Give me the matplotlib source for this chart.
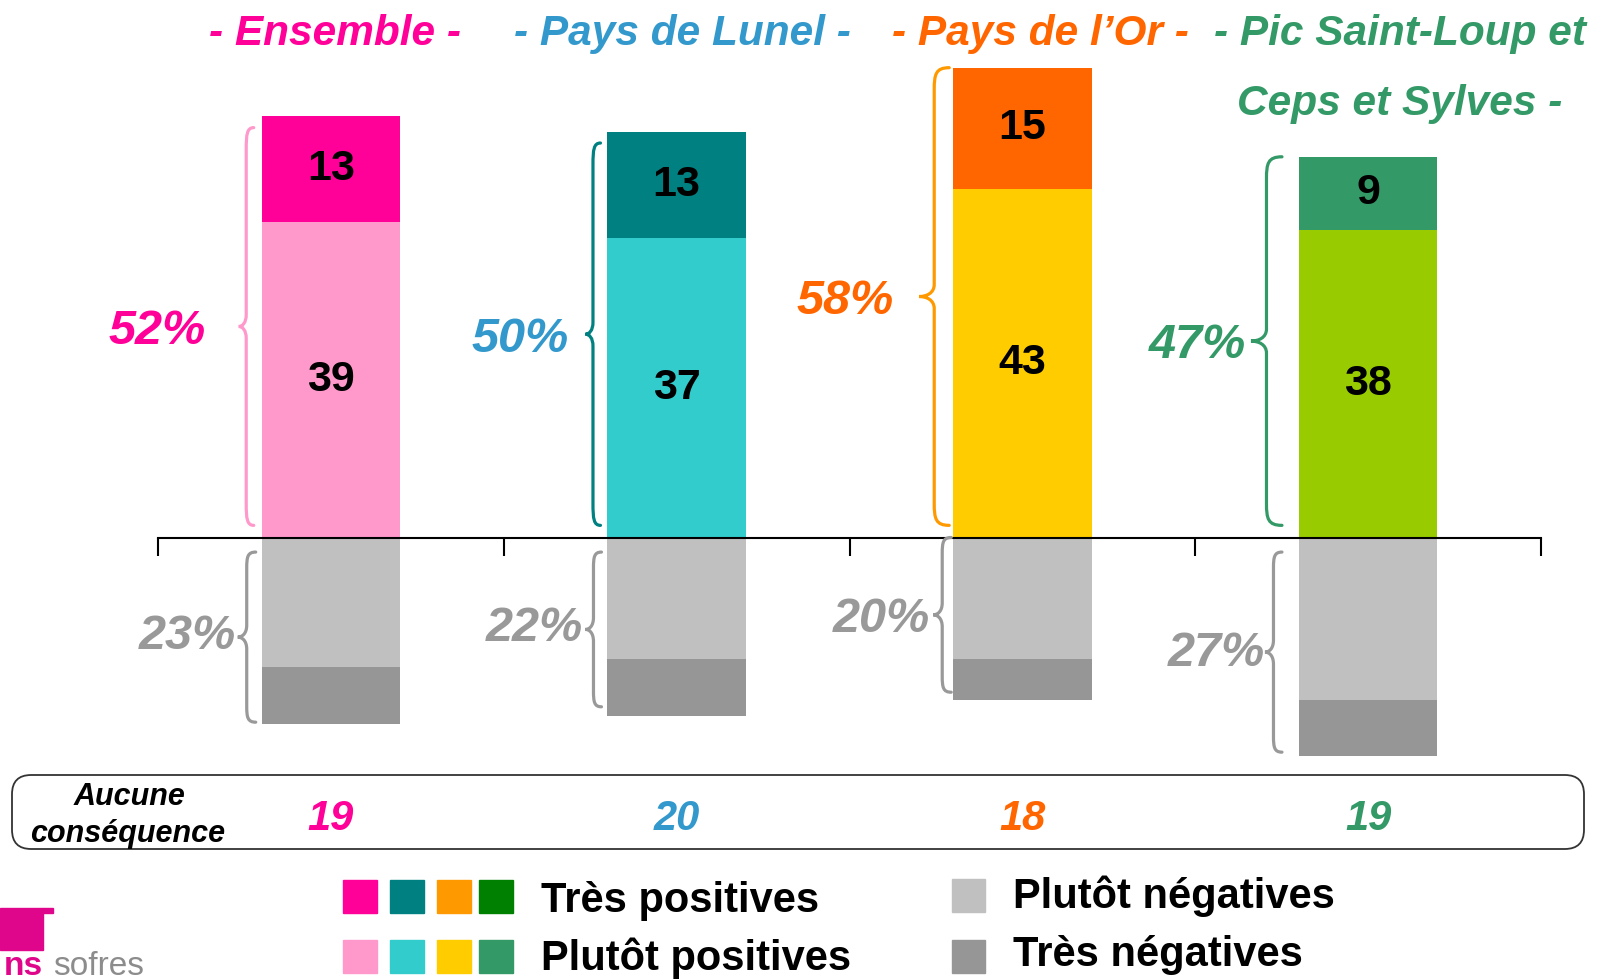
import matplotlib
matplotlib.use('Agg')
import matplotlib.pyplot as plt
import numpy as np
from matplotlib.path import Path
from matplotlib.patches import PathPatch, Rectangle, FancyBboxPatch
from matplotlib.transforms import IdentityTransform, blended_transform_factory
from matplotlib import font_manager

# données
zones = ['- Ensemble -', '- Pays de Lunel -', '- Pays de l’Or -', '- Pic Saint-Loup et\nCeps et Sylves -']
tres_pos = [13, 13, 15, 9]
plutot_pos = [39, 37, 43, 38]
plutot_neg = [16, 15, 15, 20]
tres_neg = [7, 7, 5, 7]
aucune = [19, 20, 18, 19]

# couleurs
col_tres = ['#FF0099', '#008080', '#FF6600', '#339966']
col_plutot = ['#FF99CC', '#33CCCC', '#FFCC00', '#99CC00']
col_texte = ['#FF0099', '#3399CC', '#FF6600', '#339966']
col_accolade = ['#FF99CC', '#008080', '#FF9900', '#339966']
leg_tres = ['#FF0099', '#008080', '#FF9900', '#008000']
leg_plutot = ['#FF99CC', '#33CCCC', '#FFCC00', '#339966']
GRIS_CLAIR, GRIS_FONCE, GRIS_TXT = '#C0C0C0', '#969696', '#999999'

plt.rcParams['font.family'] = ['Liberation Sans', 'DejaVu Sans']

W, H = 1598, 980
DPI = 100


def fx(px):
    return px / W


def fy(py):
    return 1 - py / H


# police étroite pour la légende si dispo
try:
    font_manager.findfont(font_manager.FontProperties(family='Liberation Sans Narrow'),
                          fallback_to_default=False)
    POLICE_LEG, TAILLE_LEG = 'Liberation Sans Narrow', 36
except ValueError:
    POLICE_LEG, TAILLE_LEG = 'Liberation Sans', 30

fig = plt.figure(figsize=(W / DPI, H / DPI), dpi=DPI)

# axe : zéro à 537 px du haut, 8.1 px par point de %
y_zero, px_pct = 537.5, 8.1
ax = fig.add_axes([fx(158), 0, fx(1541) - fx(158), 1])
ax.set_xlim(-0.5, 3.5)
ax.set_ylim(-(H - y_zero) / px_pct, y_zero / px_pct)
for s in ['left', 'right', 'top']:
    ax.spines[s].set_visible(False)
ax.spines['bottom'].set_position(('data', 0))
ax.spines['bottom'].set_linewidth(1.5)
ax.set_xticks(np.arange(-0.5, 4, 1))
ax.tick_params(axis='x', direction='out', length=13, width=1.5, labelbottom=False)
ax.set_yticks([])
ax.patch.set_alpha(0)

x = np.arange(len(zones))
larg_barre = 0.4
pos_tot = np.array(tres_pos) + np.array(plutot_pos)
neg_tot = np.array(tres_neg) + np.array(plutot_neg)

ax.bar(x, plutot_pos, larg_barre, color=col_plutot, zorder=1)
ax.bar(x, tres_pos, larg_barre, bottom=plutot_pos, color=col_tres, zorder=1)
ax.bar(x, -np.array(plutot_neg), larg_barre, color=GRIS_CLAIR, zorder=1)
ax.bar(x, -np.array(tres_neg), larg_barre, bottom=-np.array(plutot_neg), color=GRIS_FONCE, zorder=1)

for i in x:
    ax.text(i, plutot_pos[i] / 2, str(plutot_pos[i]), ha='center', va='center',
            fontsize=31, fontweight='bold')
    ax.text(i, plutot_pos[i] + tres_pos[i] / 2, str(tres_pos[i]), ha='center', va='center',
            fontsize=31, fontweight='bold')


def accolade(x_bord, y_haut, y_bas, ecart, larg, couleur, r=20, r2=12):
    """accolade tournée vers la gauche, en pixels d'affichage"""
    xb, yh = ax.transData.transform((x_bord, y_haut))
    _, yb = ax.transData.transform((x_bord, y_bas))
    xt = xb - ecart
    xs = xt - larg / 2
    xp = xt - larg
    ym = (yh + yb) / 2
    verts = [(xt, yh),
             (xs + (xt - xs) * 0.1, yh), (xs, yh - r * 0.3), (xs, yh - r),
             (xs, ym + r2),
             (xs, ym + r2 * 0.3), (xp + (xs - xp) * 0.5, ym), (xp, ym),
             (xp + (xs - xp) * 0.5, ym), (xs, ym - r2 * 0.3), (xs, ym - r2),
             (xs, yb + r),
             (xs, yb + r * 0.3), (xs + (xt - xs) * 0.1, yb), (xt, yb)]
    codes = [Path.MOVETO] + [Path.CURVE4] * 3 + [Path.LINETO] + [Path.CURVE4] * 6 + \
            [Path.LINETO] + [Path.CURVE4] * 3
    fig.add_artist(PathPatch(Path(verts, codes), fill=False, edgecolor=couleur, lw=2.3,
                             transform=IdentityTransform(), capstyle='round'))
    return xp, ym


def etiquette(xp, ym, gap, texte, couleur, taille=35):
    cap = taille / 72 * DPI * 0.716
    fig.text(xp - gap, ym - cap / 2, texte, transform=IdentityTransform(), ha='right',
             va='baseline', fontsize=taille, fontweight='bold', style='italic', color=couleur)


# réglages des accolades (positives puis négatives)
haut_pos = [1.4, 1.3, 0, 0]
ecart_pos = [8, 7, 4, 17]
larg_pos = [15, 15, 30, 31]
gap_pos = [33, 17, 25, 5]
haut_neg = [1.8, 1.8, 0, 1.8]
bas_neg = [0.2, 1.1, 0.9, 0.5]
ecart_neg = [6, 6, 2, 17]
larg_neg = [18, 16, 18, 17]
gap_neg = [2, 2, 3, 0]
decal_neg = [6, 6, 0, 4]

for i in x:
    bord = i - larg_barre / 2
    xp, ym = accolade(bord, pos_tot[i] - haut_pos[i], 1.5, ecart_pos[i], larg_pos[i],
                      col_accolade[i], r=22)
    etiquette(xp, ym, gap_pos[i], f'{pos_tot[i]}%', col_texte[i])
    xp, ym = accolade(bord, -haut_neg[i], -neg_tot[i] + bas_neg[i], ecart_neg[i], larg_neg[i],
                      GRIS_TXT, r=16)
    etiquette(xp, ym + decal_neg[i], gap_neg[i], f'{neg_tot[i]}%', GRIS_TXT)

# titres des zones
titre_x = [335, 682, 1040, 1400]
for i, t in enumerate(zones):
    for k, ligne in enumerate(t.split('\n')):
        fig.text(fx(titre_x[i]), fy(45 + 70 * k), ligne, ha='center', va='baseline',
                 fontsize=30.5, fontweight='bold', style='italic', color=col_texte[i])

# cadre "Aucune conséquence"
fig.add_artist(FancyBboxPatch((fx(12), fy(849)), fx(1584) - fx(12), fy(775) - fy(849),
                              boxstyle='round,pad=0,rounding_size=0.012',
                              transform=fig.transFigure, fill=False,
                              edgecolor='#333333', lw=1.3, mutation_aspect=W / H))
fig.text(fx(130), fy(805), 'Aucune', ha='center', va='baseline', fontsize=22,
         fontweight='bold', style='italic')
fig.text(fx(128), fy(842), 'conséquence', ha='center', va='baseline', fontsize=22,
         fontweight='bold', style='italic')
trans_mix = blended_transform_factory(ax.transData, fig.transFigure)
for i in x:
    ax.text(i, fy(830), str(aucune[i]), transform=trans_mix, ha='center', va='baseline',
            fontsize=30, fontweight='bold', style='italic', color=col_texte[i])

# légende
carre_x = [343, 390, 437, 479]
for k in range(4):
    fig.add_artist(Rectangle((fx(carre_x[k]), fy(913)), fx(34), 33 / H,
                             color=leg_tres[k], transform=fig.transFigure))
    fig.add_artist(Rectangle((fx(carre_x[k]), fy(973)), fx(34), 33 / H,
                             color=leg_plutot[k], transform=fig.transFigure))
fig.add_artist(Rectangle((fx(952), fy(912)), fx(33), 33 / H, color=GRIS_CLAIR,
                         transform=fig.transFigure))
fig.add_artist(Rectangle((fx(952), fy(973)), fx(33), 33 / H, color=GRIS_FONCE,
                         transform=fig.transFigure))
for texte, px, py in [('Très positives', 541, 912), ('Plutôt positives', 541, 970),
                      ('Plutôt négatives', 1013, 908), ('Très négatives', 1013, 966)]:
    fig.text(fx(px), fy(py), texte, ha='left', va='baseline', fontsize=TAILLE_LEG,
             fontweight='bold', family=POLICE_LEG)

# logo tns sofres (bas à gauche)
MAGENTA = '#E0068C'
fig.add_artist(Rectangle((0, fy(950)), fx(43), 42 / H, color=MAGENTA, transform=fig.transFigure))
fig.add_artist(Rectangle((fx(43), fy(913)), fx(10), 5 / H, color=MAGENTA, transform=fig.transFigure))
fig.text(fx(4), fy(975), 'ns', ha='left', va='baseline', fontsize=24, fontweight='bold',
         color=MAGENTA)
fig.text(fx(53), fy(975), 'sofres', ha='left', va='baseline', fontsize=24, color='#8C8C8C')

fig.savefig('out.png', dpi=DPI)
plt.close()
